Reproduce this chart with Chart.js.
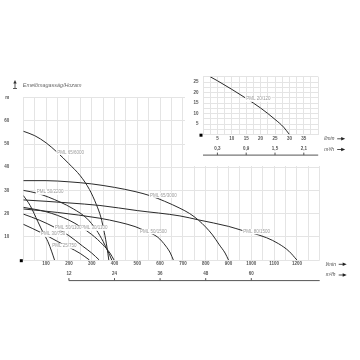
<!DOCTYPE html>
<html>
<head>
<meta charset="utf-8">
<script src="https://cdn.jsdelivr.net/npm/chart.js@4"></script>
<style>
body{margin:0;background:#fff;}
#wrap{position:relative;width:360px;height:360px;}
#main{position:absolute;left:0;top:0;}
#inset{position:absolute;left:185px;top:60px;background:#fff;}
</style>
</head>
<body>
<div id="wrap">
  <canvas id="main" width="360" height="360"></canvas>
  <canvas id="inset" width="175" height="106"></canvas>
</div>
<script>
// pump curves, [flow l/min, head m]
const pml65_6000 = [[0,55.5],[50,53.6],[100,50.5],[150,46.3],[200,41.5],[250,36.3],[290,30.4],[320,24],[340,18.5],[355,12],[367,5.5],[375,0]];
const pml65_3000 = [[0,34.2],[100,34.2],[200,33.7],[300,32.8],[400,31.3],[490,29.5],[560,27.6],[620,25.3],[687,22.3],[730,20],[768,17.2],[800,14.2],[830,10.8],[860,6.5],[885,3],[900,0]];
const pml80_1500 = [[0,25.9],[100,25.3],[200,24.6],[336,23.5],[500,21.3],[687,19],[768,17.3],[900,14.5],[965,12.6],[1000,11.7],[1067,9.6],[1120,7],[1165,3.8],[1200,0]];
const pml50_2200 = [[0,30],[60,28.8],[161,25],[220,22],[278,18],[320,13],[350,8],[370,4],[388,0]];
const pml50_1500 = [[0,22],[150,20.5],[336,18],[420,16.3],[490,14.4],[540,12.3],[590,9.8],[625,6],[645,3],[658,0]];
const pml30_1100 = [[0,22.7],[100,20.8],[200,17.2],[253,14.2],[300,11],[350,6.5],[380,3],[398,0]];
const pml50_1100 = [[0,19.8],[70,17.2],[139,14],[200,10.5],[260,6],[300,3],[333,0]];
const pml30_750 = [[0,15.4],[78,11.8],[150,8],[200,5.5],[250,2.8],[290,0]];
const pml25_750 = [[0,27.8],[30,23.5],[64,16.5],[90,11.2],[108,7.9],[125,3.5],[137,0]];

const curves = [pml65_6000, pml65_3000, pml80_1500, pml50_2200, pml50_1500, pml30_1100, pml50_1100, pml30_750, pml25_750];
const curveNames = ['PML 65/6000','PML 65/3000','PML 80/1500','PML 50/2200','PML 50/1500','PML 30/1100','PML 50/1100','PML 30/750','PML 25/750'];
const labelAnchors = [[149,46.4],[556,27.9],[965,12.2],[59,29.2],[512,12.2],[253,13.7],[139,13.7],[78,11.1],[127,6]];

const flowTicks = [100,200,300,400,500,600,700,800,900,1000,1100,1200];
const headTicks = [10,20,30,40,50,60];
const m3hTicks = [12,24,36,48,60];

// small pump inset
const pml20_120 = [[2.5,27.5],[5,25.6],[10,21.5],[15,17.2],[20,12.6],[25,7.2],[28,3.5],[30,0]];
const insetNames = ['PML 20/120'];
const insetAnchors = [[15,16.8]];
const insetFlowTicks = [5,10,15,20,25,30,35];
const insetHeadTicks = [5,10,15,20,25];
const insetM3hTicks = [0.3,0.9,1.5,2.1];

const GRID = '#e4e4e4';
const INK = '#2a2a2a';

function toPoints(arr){ return arr.map(p=>({x:p[0], y:p[1]})); }

function arrowRight(ctx, x, y){
  ctx.strokeStyle='#222'; ctx.fillStyle='#222'; ctx.lineWidth=0.8;
  ctx.beginPath(); ctx.moveTo(x, y); ctx.lineTo(x+5, y); ctx.stroke();
  ctx.beginPath(); ctx.moveTo(x+8, y); ctx.lineTo(x+4, y-1.8); ctx.lineTo(x+4, y+1.8); ctx.closePath(); ctx.fill();
}

const extras = {
  id:'extras',
  afterDatasetsDraw(chart, args, opts){
    const ctx = chart.ctx, x = chart.scales.x, y = chart.scales.y;
    ctx.save();
    // curve names
    ctx.font = '4.5px "Liberation Sans"';
    ctx.textBaseline = 'middle';
    ctx.textAlign = 'left';
    opts.names.forEach((name,i)=>{
      const px = x.getPixelForValue(opts.anchors[i][0]);
      const py = y.getPixelForValue(opts.anchors[i][1]);
      const w = ctx.measureText(name).width;
      ctx.fillStyle = '#fff'; ctx.fillRect(px-1, py-2.6, w+2, 5.2);
      ctx.fillStyle = '#9a9a9a'; ctx.fillText(name, px, py);
    });
    // origin marker
    const x0 = x.getPixelForValue(0), y0 = y.getPixelForValue(0);
    ctx.fillStyle = '#000';
    ctx.fillRect(x0-3.5, y0-0.8, 3, 3);
    // units
    ctx.font = 'italic 4.8px "Liberation Sans"';
    ctx.fillStyle = '#444';
    ctx.fillText('l/min', x.right+6, y.bottom+4.3);
    ctx.fillText('m³/h', x.right+6, y.bottom+15);
    arrowRight(ctx, x.right+19, y.bottom+4.3);
    arrowRight(ctx, x.right+19, y.bottom+15);
    // m3/h scale
    const lineY = y.bottom+20.6;
    const from = x.getPixelForValue(opts.m3hFrom*1000/60);
    ctx.strokeStyle = '#555'; ctx.lineWidth = 1;
    ctx.beginPath(); ctx.moveTo(from, lineY); ctx.lineTo(x.right, lineY); ctx.stroke();
    ctx.font = 'bold 4.5px "Liberation Sans"';
    ctx.textAlign = 'center';
    ctx.fillStyle = '#555';
    opts.m3h.forEach(v=>{
      const px = x.getPixelForValue(v*1000/60);
      ctx.beginPath(); ctx.moveTo(px, lineY-2.5); ctx.lineTo(px, lineY); ctx.stroke();
      ctx.fillText(String(v).replace('.',','), px, y.bottom+14.2);
    });
    // title
    if(opts.title){
      ctx.textAlign = 'left';
      ctx.font = 'italic 5.4px "Liberation Sans"';
      ctx.fillStyle = '#6a6a6a';
      ctx.fillText(opts.title, x0-0.5, 85.7);
      ctx.strokeStyle = '#333'; ctx.fillStyle = '#333'; ctx.lineWidth = 0.8;
      ctx.beginPath(); ctx.moveTo(15, 82); ctx.lineTo(15, 88.5); ctx.stroke();
      ctx.beginPath(); ctx.moveTo(15, 80); ctx.lineTo(13.3, 83.5); ctx.lineTo(16.7, 83.5); ctx.closePath(); ctx.fill();
      ctx.beginPath(); ctx.moveTo(13, 88.5); ctx.lineTo(17, 88.5); ctx.stroke();
    }
    ctx.restore();
  }
};

function lineDataset(arr){
  return {data: toPoints(arr), borderColor: INK, borderWidth: 1, pointRadius: 0,
          fill: false, cubicInterpolationMode: 'monotone'};
}

function tickFont(){ return {family:'Liberation Sans', size:4.5, weight:'bold'}; }

function pumpChart(el, cfg){
  return new Chart(el, {
    type:'line',
    data:{datasets: cfg.series.map(lineDataset)},
    plugins:[extras],
    options:{
      responsive:false, animation:false, devicePixelRatio:1,
      layout:{padding:cfg.padding},
      plugins:{legend:{display:false}, tooltip:{enabled:false},
        extras:{names:cfg.names, anchors:cfg.anchors, m3h:cfg.m3h, m3hFrom:cfg.m3hFrom, title:cfg.title}},
      scales:{
        x:{type:'linear', min:0, max:cfg.xMax,
           grid:{color:GRID, drawTicks:false}, border:{display:false},
           ticks:{stepSize:cfg.xStep, autoSkip:false, maxRotation:0, padding:cfg.xPad, color:'#555', font:tickFont(),
                  callback:v=>cfg.xTicks.includes(v)? String(v):''},
           afterFit:s=>{ s.height = cfg.xHeight; }},
        y:{min:0, max:cfg.yMax,
           grid:{color:GRID, drawTicks:false}, border:{display:false},
           ticks:{stepSize:cfg.yStep, autoSkip:false, padding:cfg.yPad, color:'#555', font:tickFont(),
                  callback:v=>cfg.yTicks.includes(v)? String(v) : (v===cfg.yMax && cfg.yUnit ? cfg.yUnit : '')},
           afterFit:s=>{ s.width = cfg.yWidth; }}
      }
    }
  });
}

pumpChart(document.getElementById('main'), {
  series: curves, names: curveNames, anchors: labelAnchors,
  m3h: m3hTicks, m3hFrom: m3hTicks[0], title: 'Emelőmagasság/Hozam',
  xMax:1300, xStep:50, xTicks:flowTicks, xPad:1.5, xHeight:100,
  yMax:70, yStep:10, yTicks:headTicks, yUnit:'m', yPad:14, yWidth:23.3,
  padding:{left:0, right:40.3, top:97.6, bottom:0}
});

pumpChart(document.getElementById('inset'), {
  series: [pml20_120], names: insetNames, anchors: insetAnchors,
  m3h: insetM3hTicks, m3hFrom: 0, title: null,
  xMax:40, xStep:2.5, xTicks:insetFlowTicks, xPad:1.8, xHeight:31.5,
  yMax:27.5, yStep:2.5, yTicks:insetHeadTicks, yUnit:null, yPad:4.5, yWidth:18,
  padding:{left:0, right:41.8, top:16.75, bottom:0}
});
</script>
</body>
</html>
